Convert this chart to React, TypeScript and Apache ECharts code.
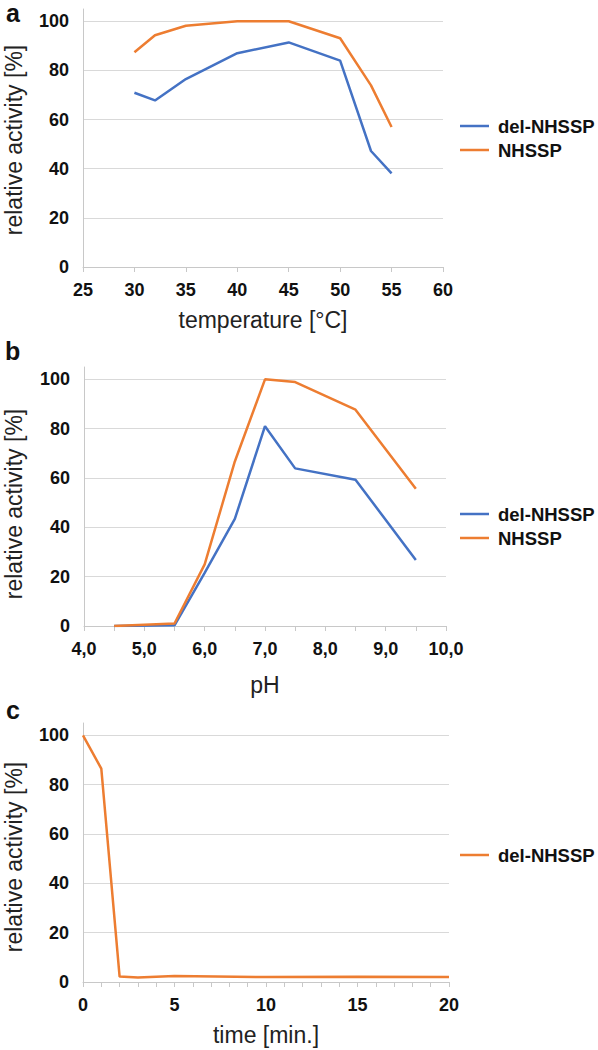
import React, { useEffect, useRef } from "react";
import * as echarts from "echarts";

const BLUE = "#4472C4";
const ORANGE = "#ED7D31";

// Panel a: temperature
const tempX = [30, 32, 35, 40, 45, 50, 53, 55];
const tempDel = [70.9, 67.8, 76.5, 87.0, 91.4, 84.0, 47.2, 38.1];
const tempNh = [87.4, 94.3, 98.2, 100, 100, 93.1, 73.9, 57.0];

// Panel b: pH
const phX = [4.5, 5.5, 6.0, 6.5, 7.0, 7.5, 8.5, 9.5];
const phDel = [0, 0.3, 21.5, 43.4, 81.0, 63.9, 59.3, 26.8];
const phNh = [0, 1.0, 25.0, 66.7, 100, 98.9, 87.7, 55.6];

// Panel c: time
const timeX = [0, 1, 2, 3, 5, 10, 15, 20];
const timeDel = [100, 86.5, 2.2, 1.8, 2.4, 2.0, 2.1, 2.0];

const yTicks = [0, 20, 40, 60, 80, 100];

const pairs = (xs: number[], ys: number[]) => xs.map((x, i) => [x, ys[i]]);

const FONT = "Liberation Sans, Arial, sans-serif";

export default function App() {
  const ref = useRef<HTMLDivElement>(null);
  useEffect(() => {
    if (!ref.current) return;
    const chart = echarts.init(ref.current, undefined, { renderer: "svg" });

    const grids = [
      { left: 83, width: 360, top: 9, height: 258 },
      { left: 84, width: 362, top: 367, height: 259 },
      { left: 83, width: 366, top: 723, height: 259 },
    ];

    const yAxisBase = (gi: number) => ({
      type: "value",
      gridIndex: gi,
      min: 0,
      max: 105,
      interval: 20,
      axisLine: { show: true, lineStyle: { color: "#c8c8c8", width: 1 } },
      axisTick: { show: false },
      axisLabel: {
        margin: 14,
        color: "#111",
        fontFamily: FONT,
        fontWeight: "bold",
        fontSize: 18,
        formatter: (v: number) => (yTicks.includes(v) ? String(v) : ""),
      },
      splitLine: { show: true, showMaxLine: false, lineStyle: { color: "#d9d9d9", width: 1 } },
    });

    const xAxisBase = (gi: number) => ({
      type: "value",
      gridIndex: gi,
      nameLocation: "middle",
      nameTextStyle: { fontFamily: FONT, fontSize: 23, color: "#222" },
      axisLine: { show: true, onZero: false, lineStyle: { color: "#c8c8c8", width: 1 } },
      axisTick: { show: true, inside: false, length: 5, lineStyle: { color: "#c8c8c8" } },
      axisLabel: {
        margin: 14,
        color: "#111",
        fontFamily: FONT,
        fontWeight: "bold",
        fontSize: 18,
      },
      splitLine: { show: false },
    });

    const lineSeries = (name: string, gi: number, data: number[][], color: string) => ({
      type: "line",
      name,
      xAxisIndex: gi,
      yAxisIndex: gi,
      data,
      symbol: "none",
      showSymbol: false,
      lineStyle: { color, width: 2.5 },
      itemStyle: { color },
      color,
    });

    const legendBase = (top: number, data: string[]) => ({
      orient: "vertical",
      left: 460,
      top,
      padding: 0,
      data,
      icon: "rect",
      itemWidth: 29,
      itemHeight: 2.5,
      itemGap: 4,
      textStyle: {
        fontFamily: FONT,
        fontWeight: "bold",
        fontSize: 18.5,
        color: "#111",
        lineHeight: 20,
        padding: [0, 0, 0, 4],
      },
      formatter: (n: string) => n.replace("c:", ""),
    });

    const yTitle = (cy: number) => ({
      type: "text",
      x: 14,
      y: cy,
      rotation: Math.PI / 2,
      style: {
        text: "relative activity [%]",
        align: "center",
        verticalAlign: "middle",
        fontFamily: FONT,
        fontSize: 23,
        fill: "#222",
      },
    });

    const letter = (t: string, x: number, y: number) => ({
      type: "text",
      x,
      y,
      style: { text: t, fontFamily: FONT, fontWeight: "bold", fontSize: 25, fill: "#111" },
    });

    chart.setOption({
      animation: false,
      backgroundColor: "#fff",
      grid: grids,
      xAxis: [
        {
          ...xAxisBase(0),
          min: 25,
          max: 60,
          interval: 5,
          name: "temperature [\u00B0C]",
          nameGap: 41,
        },
        {
          ...xAxisBase(1),
          min: 4,
          max: 10,
          interval: 1,
          name: "pH",
          nameGap: 47,
          minorTick: { show: true, splitNumber: 2, length: 5, lineStyle: { color: "#c8c8c8" } },
          axisLabel: {
            ...xAxisBase(1).axisLabel,
            formatter: (v: number) => v.toFixed(1).replace(".", ","),
          },
        },
        {
          ...xAxisBase(2),
          min: 0,
          max: 20,
          interval: 5,
          name: "time [min.]",
          nameGap: 41,
          minorTick: { show: true, splitNumber: 5, length: 5, lineStyle: { color: "#c8c8c8" } },
        },
      ],
      yAxis: [yAxisBase(0), yAxisBase(1), yAxisBase(2)],
      legend: [
        legendBase(116, ["del-NHSSP", "NHSSP"]),
        legendBase(504, ["del-NHSSP", "NHSSP"]),
        legendBase(845, ["c:del-NHSSP"]),
      ],
      graphic: [
        yTitle(140),
        yTitle(504),
        yTitle(857),
        letter("a", 6, 0),
        letter("b", 5, 338),
        letter("c", 6, 697),
      ],
      series: [
        lineSeries("del-NHSSP", 0, pairs(tempX, tempDel), BLUE),
        lineSeries("NHSSP", 0, pairs(tempX, tempNh), ORANGE),
        lineSeries("del-NHSSP", 1, pairs(phX, phDel), BLUE),
        lineSeries("NHSSP", 1, pairs(phX, phNh), ORANGE),
        lineSeries("c:del-NHSSP", 2, pairs(timeX, timeDel), ORANGE),
      ],
    });
    return () => chart.dispose();
  }, []);
  return (
    <div
      ref={ref}
      style={{ position: "absolute", left: 0, top: 0, width: 598, height: 1050 }}
    />
  );
}
